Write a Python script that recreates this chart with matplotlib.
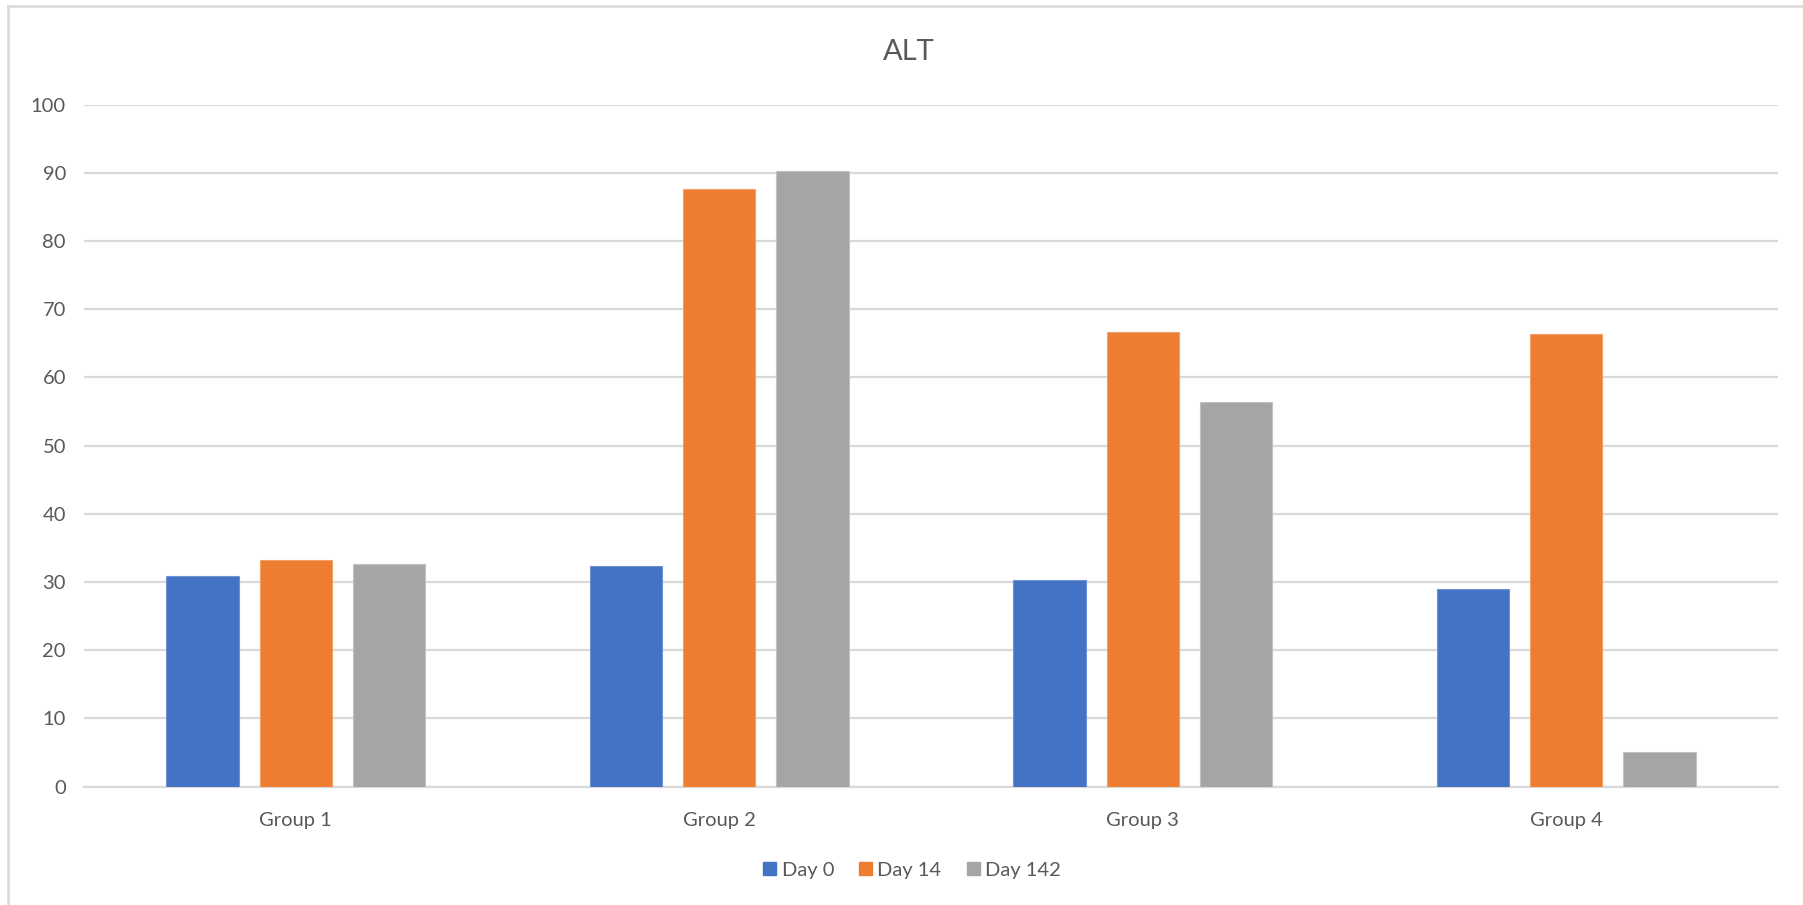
import matplotlib
matplotlib.use("Agg")
import matplotlib.pyplot as plt
import numpy as np
from matplotlib.lines import Line2D
from matplotlib.patches import Patch

plt.rcParams['font.family'] = ['Lato', 'DejaVu Sans']

groups = ["Group 1", "Group 2", "Group 3", "Group 4"]
series_names = ["Day 0", "Day 14", "Day 142"]
day0 = [30.9, 32.4, 30.3, 28.9]
day14 = [33.2, 87.6, 66.6, 66.4]
day142 = [32.7, 90.2, 56.4, 5.1]
y_ticks = [0, 10, 20, 30, 40, 50, 60, 70, 80, 90, 100]

colors = ["#4472C4", "#ED7D31", "#A5A5A5"]
edge_colors = ["#6f93d6", "#f4a06a", "#c2c2c2"]
text_color = "#595959"
grid_color = "#D9D9D9"

W, H = 1803, 905
fig = plt.figure(figsize=(W / 100, H / 100), dpi=100)
ax = fig.add_axes([84 / W, 1 - 786.5 / H, (1778 - 84) / W, (786.5 - 104.6) / H])

x = np.arange(len(groups))
bar_w = 0.171
step = 0.220
for i, (vals, c, ec) in enumerate(zip([day0, day14, day142], colors, edge_colors)):
    ax.bar(x + (i - 1) * step, vals, width=bar_w, color=c, edgecolor=ec,
           linewidth=0.8, zorder=3, label=series_names[i])

ax.set_xlim(-0.5, len(groups) - 0.5)
ax.set_ylim(0, 100)
ax.set_yticks(y_ticks)
ax.set_yticklabels([str(t) for t in y_ticks])
ax.set_xticks(x)
ax.set_xticklabels(groups)
ax.yaxis.grid(True, color=grid_color, linewidth=1.6, zorder=0)
ax.set_axisbelow(True)
for s in ["top", "right", "left"]:
    ax.spines[s].set_visible(False)
ax.spines["bottom"].set_color(grid_color)
ax.spines["bottom"].set_linewidth(1.6)
ax.tick_params(axis="y", length=0, pad=13, labelsize=14.5, labelcolor=text_color)
ax.tick_params(axis="x", length=0, pad=18, labelsize=14.5, labelcolor=text_color)

fig.text(909 / W, 1 - 52 / H, "ALT", ha="center", va="center",
         fontsize=21, color=text_color)

handles = [Patch(facecolor=c, edgecolor=c) for c in colors]
fig.legend(handles, series_names, loc="center", bbox_to_anchor=(912 / W, 1 - 870 / H),
           ncol=3, frameon=False, fontsize=14.5, labelcolor=text_color,
           handlelength=0.65, handleheight=0.65, handletextpad=0.25, columnspacing=1.25)

# chart frame: top and left edges
fig.add_artist(Line2D([8 / W, 1], [1 - 6 / H, 1 - 6 / H], color=grid_color, linewidth=1.8))
fig.add_artist(Line2D([8 / W, 8 / W], [0, 1 - 6 / H], color=grid_color, linewidth=1.8))

fig.savefig("out.png", dpi=100, facecolor="white")
